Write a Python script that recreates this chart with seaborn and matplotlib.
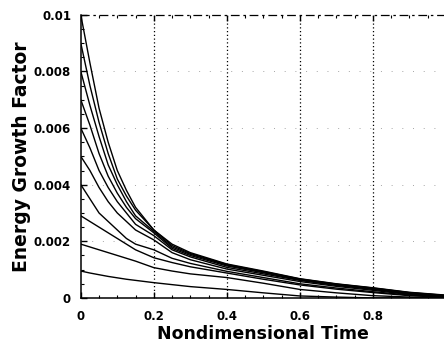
import pandas as pd
import matplotlib
matplotlib.use("Agg")
import matplotlib.pyplot as plt
import seaborn as sns
from matplotlib.ticker import MultipleLocator, FixedFormatter, FixedLocator

# time points
t = [0, 0.025, 0.05, 0.075, 0.1, 0.125, 0.15, 0.2, 0.25, 0.3, 0.4, 0.5, 0.6, 0.7, 0.8, 0.9, 1.0]

# one curve per initial energy level
g010 = [0.0100, 0.0083, 0.0067, 0.0055, 0.0045, 0.0038, 0.0032, 0.0024, 0.0019, 0.0016, 0.00120, 0.00095, 0.00068, 0.00050, 0.00036, 0.00020, 0.00010]
g009 = [0.0090, 0.0075, 0.0062, 0.0051, 0.0042, 0.0036, 0.0031, 0.0024, 0.00185, 0.00157, 0.00118, 0.00093, 0.00067, 0.00049, 0.00035, 0.00019, 0.00009]
g008 = [0.0080, 0.0068, 0.0057, 0.0047, 0.0040, 0.0034, 0.0029, 0.00235, 0.0018, 0.00154, 0.00116, 0.00091, 0.00065, 0.00048, 0.00034, 0.00018, 0.00008]
g007 = [0.0070, 0.0061, 0.0051, 0.0043, 0.0037, 0.0032, 0.0028, 0.0023, 0.00175, 0.0015, 0.00113, 0.00089, 0.00064, 0.00046, 0.00032, 0.00016, 0.00006]
g006 = [0.0060, 0.0053, 0.0045, 0.0039, 0.0034, 0.0030, 0.0026, 0.0022, 0.0017, 0.00145, 0.00108, 0.00085, 0.00062, 0.00044, 0.00030, 0.00014, 0.00005]
g005 = [0.0050, 0.0045, 0.0039, 0.0034, 0.0030, 0.0027, 0.0024, 0.00205, 0.0016, 0.00135, 0.00102, 0.00080, 0.00058, 0.00041, 0.00027, 0.00012, 0.00004]
g004 = [0.0040, 0.0035, 0.0030, 0.0027, 0.0024, 0.0021, 0.0019, 0.0017, 0.0014, 0.00122, 0.00094, 0.00072, 0.00050, 0.00035, 0.00022, 0.00010, 0.00003]
g003 = [0.0029, 0.0027, 0.0025, 0.0023, 0.0021, 0.0019, 0.0017, 0.00142, 0.00125, 0.0011, 0.00088, 0.00066, 0.00046, 0.00031, 0.00019, 0.00008, 0.00002]
g002 = [0.0019, 0.0018, 0.0017, 0.0016, 0.0015, 0.0014, 0.0013, 0.00107, 0.00095, 0.00085, 0.00072, 0.00052, 0.00030, 0.00018, 0.00008, 0.00003, 0.0]
g001 = [0.00095, 0.00088, 0.00082, 0.00076, 0.00071, 0.00066, 0.00062, 0.00054, 0.00047, 0.00040, 0.00030, 0.00018, 0.00007, 0.00003, 0.0, 0.0, 0.0]

curves = {"0.010": g010, "0.009": g009, "0.008": g008, "0.007": g007, "0.006": g006,
          "0.005": g005, "0.004": g004, "0.003": g003, "0.002": g002, "0.001": g001}

xticks = [0, 0.2, 0.4, 0.6, 0.8]
xlabels = ["0", "0.2", "0.4", "0.6", "0.8"]
yticks = [0, 0.002, 0.004, 0.006, 0.008, 0.01]
ylabels = ["0", "0.002", "0.004", "0.006", "0.008", "0.01"]

df = pd.concat(
    [pd.DataFrame({"t": t, "E": v, "curve": k}) for k, v in curves.items()],
    ignore_index=True,
)

sns.set_style("ticks")
plt.rcParams["font.family"] = ["DejaVu Sans"]
plt.rcParams["font.weight"] = "bold"
plt.rcParams["text.color"] = "black"
plt.rcParams["axes.labelcolor"] = "black"
plt.rcParams["xtick.color"] = "black"
plt.rcParams["ytick.color"] = "black"
plt.rcParams["axes.edgecolor"] = "black"

fig = plt.figure(figsize=(4.44, 3.53), dpi=100)
ax = fig.add_axes([0.182, 0.156, 0.822, 0.802])

sns.lineplot(data=df, x="t", y="E", hue="curve", palette=["black"] * 10,
             legend=False, linewidth=1.0, ax=ax, estimator=None, sort=False)

ax.set_xlim(0, 1.0)
ax.set_ylim(0, 0.01)

ax.xaxis.set_major_locator(FixedLocator(xticks))
ax.xaxis.set_major_formatter(FixedFormatter(xlabels))
ax.yaxis.set_major_locator(FixedLocator(yticks))
ax.yaxis.set_major_formatter(FixedFormatter(ylabels))
ax.xaxis.set_minor_locator(MultipleLocator(0.05))
ax.yaxis.set_minor_locator(MultipleLocator(0.0005))

ax.tick_params(which="both", direction="in", top=True, left=True, bottom=True, right=False)
ax.tick_params(which="major", length=4, width=1, labelsize=8.5)
ax.tick_params(axis="x", which="major", pad=9)
ax.tick_params(axis="y", which="major", pad=7)
ax.tick_params(which="minor", length=2.5, width=0.8)
for lab in ax.get_xticklabels() + ax.get_yticklabels():
    lab.set_fontweight("bold")

# dotted vertical grid, faint sparse horizontal grid
for x in xticks[1:]:
    ax.axvline(x, color="black", linestyle=(0, (1, 2)), linewidth=0.9, zorder=0)
for y in yticks[1:-1]:
    ax.axhline(y, color="0.65", linestyle=(0, (1, 10)), linewidth=0.7, zorder=0)

ax.spines["top"].set_linestyle((0, (6, 4, 1, 4)))
ax.spines["top"].set_linewidth(0.9)
ax.spines["right"].set_visible(False)
ax.spines["left"].set_linewidth(1.1)
ax.spines["bottom"].set_linewidth(1.1)

ax.set_xlabel("Nondimensional Time", fontsize=12.5, fontweight="bold", labelpad=1)
ax.set_ylabel("Energy Growth Factor", fontsize=13.5, fontweight="bold", labelpad=2)

fig.savefig("out.png", dpi=100)
